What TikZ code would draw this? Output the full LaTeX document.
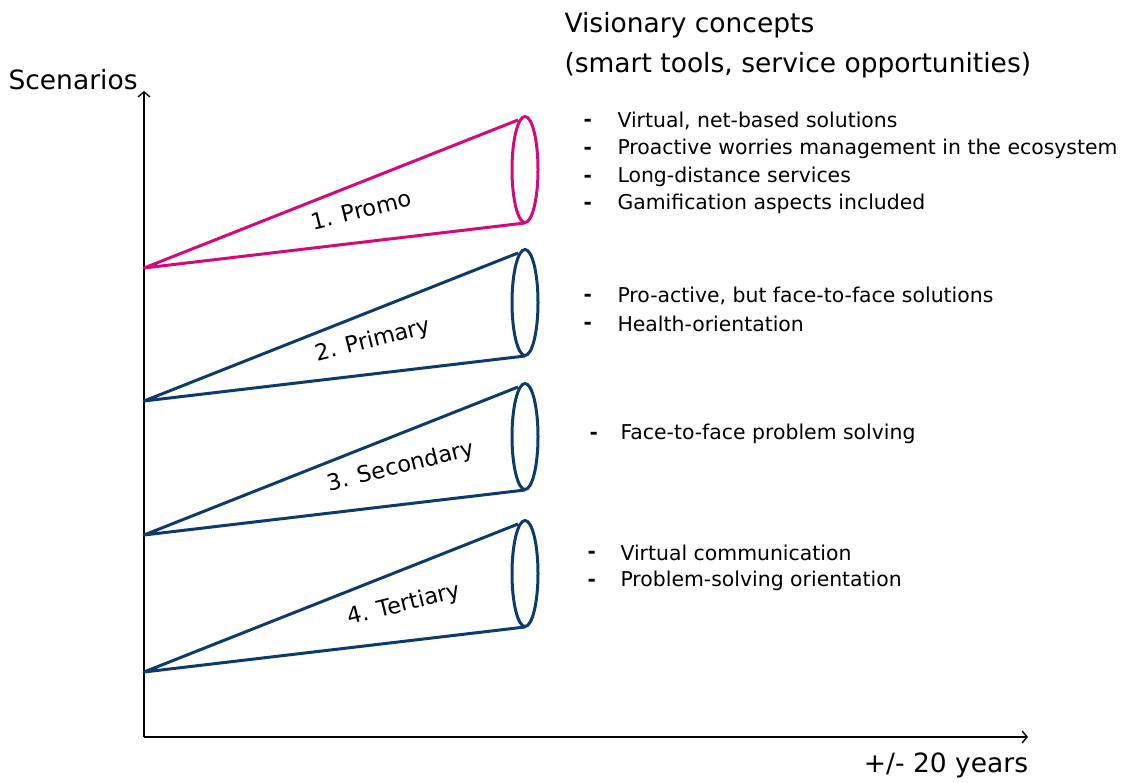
\documentclass[tikz,border=0pt]{standalone}
\usepackage{fontspec}
\setmainfont{DejaVu Sans}
\usetikzlibrary{arrows.meta}

\definecolor{promo}{HTML}{D4097C}
\definecolor{navy}{HTML}{0D3B6C}

\tikzset{
    axis/.style={line width=1.8pt, -{Straight Barb[length=5pt,width=12pt,line width=1.4pt]}},
    cone/.style={line width=3pt, line join=round},
    conelabel/.style={rotate=14, font=\fontsize{22.5}{22}\selectfont},
    heading/.style={anchor=west, font=\fontsize{26.5}{30}\selectfont},
    item/.style={anchor=west, font=\fontsize{20.4}{20}\selectfont},
    bullet/.style={anchor=west, font=\bfseries\fontsize{20}{20}\selectfont}
}

\begin{document}
\begin{tikzpicture}[x=1pt,y=-1pt]
    \useasboundingbox (0,0) rectangle (1123,782);

    % Axes
    \coordinate (origin) at (144,737);
    \coordinate (ytop) at (144,91);
    \coordinate (xend) at (1028,737);
    \draw[axis] (origin) -- (ytop);
    \draw[axis] (origin) -- (xend);
    \node[heading] (scen) at (5,80) {Scenarios};
    \node[font=\fontsize{26.5}{26}\selectfont] (years) at (946,765) {+/- 20 years};

    % Cones: apex on the axis, open end as an ellipse
    \foreach \n/\apex/\col/\name/\lx/\ly in {1/268/promo/{1. Promo}/361/210,
                                             2/401/navy/{2. Primary}/373/341,
                                             3/535/navy/{3. Secondary}/401/467,
                                             4/672/navy/{4. Tertiary}/404/605}{
        \coordinate (apex\n) at (144,\apex);
        \coordinate (top\n) at (518,\apex-148);
        \coordinate (bot\n) at (525,\apex-45);
        \coordinate (end\n) at (525,\apex-98.5);
        \draw[cone,\col] (top\n) -- (apex\n) -- (bot\n);
        \draw[cone,\col] (end\n) ellipse (13pt and 53pt);
        \node[conelabel] (lab\n) at (\lx,\ly) {\name};
    }

    % Concepts
    \node[heading] (vis) at (561,25) {Visionary concepts};
    \node[heading] (smart) at (561,65) {(smart tools, service opportunities)};

    \foreach \bx/\tx/\y/\txt [count=\i] in {584/618/121/{Virtual, net-based solutions},
                                            584/618/149/{Proactive worries management in the ecosystem},
                                            584/618/177/{Long-distance services},
                                            584/618/204/{Gamification aspects included},
                                            584/618/296/{Pro-active, but face-to-face solutions},
                                            584/618/324/{Health-orientation},
                                            590/621/434/{Face-to-face problem solving},
                                            588/621/553/{Virtual communication},
                                            588/621/581/{Problem-solving orientation}}{
        \node[bullet] (b\i) at (\bx-4,\y+2) {-};
        \node[item] (t\i) at (\tx-4,\y) {\txt};
    }
\end{tikzpicture}
\end{document}
